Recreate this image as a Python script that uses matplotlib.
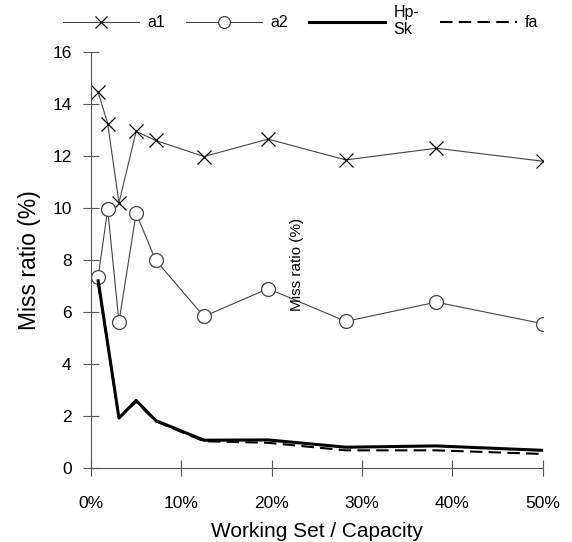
import matplotlib
matplotlib.use("Agg")
import matplotlib.pyplot as plt

plt.rcParams['font.family'] = ['Liberation Sans', 'DejaVu Sans']

# working set / capacity (%)
x_pct = [0.8, 1.85, 3.1, 5.0, 7.15, 12.5, 19.6, 28.2, 38.2, 50.0]
a1 = [14.45, 13.25, 10.2, 12.95, 12.6, 11.98, 12.65, 11.85, 12.3, 11.8]
a2 = [7.35, 9.95, 5.62, 9.8, 8.0, 5.83, 6.9, 5.64, 6.38, 5.55]
hp_x = [0.8, 3.1, 5.0, 7.15, 12.5, 19.6, 28.2, 38.2, 50.0]
hp_sk = [7.2, 1.92, 2.6, 1.83, 1.07, 1.08, 0.80, 0.85, 0.68]
fa = [7.1, 1.92, 2.55, 1.80, 1.03, 0.97, 0.68, 0.68, 0.54]

xticks = [0, 10, 20, 30, 40, 50]
yticks = [0, 2, 4, 6, 8, 10, 12, 14, 16]

fig = plt.figure(figsize=(5.72, 5.42), dpi=100)
ax = fig.add_axes([0.159, 0.1365, 0.79, 0.7675])

gray = '#444444'
ax.plot(x_pct, a1, color=gray, lw=0.8, marker='x', ms=10, mec='black', mew=0.9, label='a1')
ax.plot(x_pct, a2, color=gray, lw=0.8, marker='o', ms=10, mfc='white', mec=gray, mew=0.9, label='a2')
ax.plot(hp_x, hp_sk, color='black', lw=2.2, label='Hp-\nSk')
ax.plot(hp_x, fa, color='black', lw=1.5, ls=(0, (6, 3)), label='fa')

ax.set_xlim(0, 50)
ax.set_ylim(0, 16)
ax.set_xticks(xticks)
ax.set_xticklabels([f'{t}%' for t in xticks])
ax.set_yticks(yticks)
for s in ['top', 'right']:
    ax.spines[s].set_visible(False)
for s in ['left', 'bottom']:
    ax.spines[s].set_color('#555555')
    ax.spines[s].set_linewidth(0.8)
ax.tick_params(direction='inout', length=12, width=0.8, color='#555555', labelsize=12.5)
ax.tick_params(axis='x', pad=14)
ax.tick_params(axis='y', pad=8)

ax.set_xlabel('Working Set / Capacity', fontsize=15, labelpad=8)
ax.set_ylabel('Miss ratio (%)', fontsize=16.5, labelpad=8)
ax.text(0.457, 0.49, 'Miss ratio (%)', transform=ax.transAxes, rotation=90,
        fontsize=11, ha='center', va='center')

leg = fig.legend(loc='center', bbox_to_anchor=(0.525, 0.961), ncol=4, frameon=False,
                 fontsize=11.5, handlelength=4.8, handletextpad=0.5, columnspacing=1.3,
                 borderaxespad=0, borderpad=0, markerscale=0.85)

fig.savefig('out.png', dpi=100)
